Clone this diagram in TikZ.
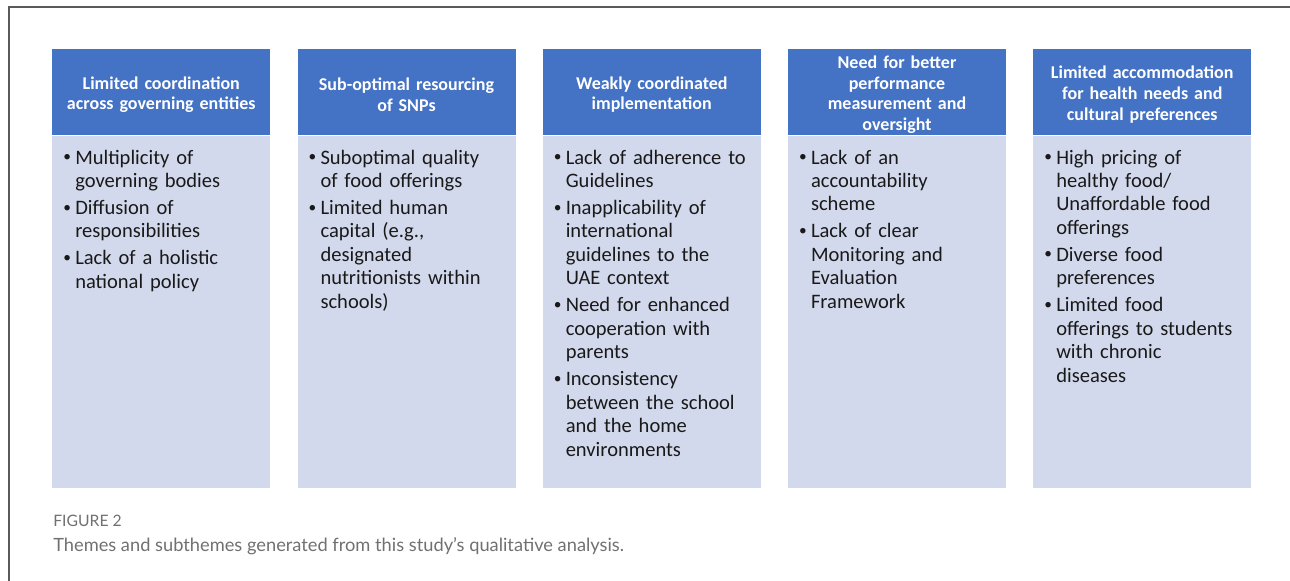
\documentclass[tikz,border=0pt]{standalone}
\usepackage{fontspec}
\setmainfont{Carlito}
\newfontfamily\capfont{Lato}
\usepackage{tikz}
\usetikzlibrary{positioning}
\usepackage{xcolor}
\definecolor{headblue}{HTML}{4472C4}
\definecolor{bodyblue}{HTML}{D3D9EC}
\definecolor{framegray}{HTML}{5A5A5A}
\definecolor{capgray}{HTML}{707070}
\tikzset{
  header/.style={fill=headblue,draw=none,text=white,font=\fontsize{13.5}{15.4}\selectfont\bfseries,
                 text width=158pt,inner sep=0,minimum width=163.5pt,minimum height=64.5pt,align=center},
  bodybox/.style={fill=bodyblue,draw=none,inner sep=0,minimum width=163.5pt,minimum height=264pt},
  bodytext/.style={inner sep=0,text width=154pt,text=black!90,
                   font=\fontsize{15.4}{17.6}\selectfont},
  caption/.style={inner sep=0,anchor=base west,text=capgray}
}
% one bullet point with hanging indent
\newcommand{\sitem}[1]{\par\hangindent=9pt\hangafter=1\noindent
  \makebox[9pt][l]{\raisebox{0.12em}{\scalebox{0.75}{\textbullet}}}#1}
\begin{document}
\begin{tikzpicture}[x=0.75pt,y=-0.75pt]
  \useasboundingbox (0,0) rectangle (1290,581);
  % Frame round the figure
  \draw[framegray,line width=1.1pt] (9,581) -- (9,7) -- (1290,7);
  % Draw theme headers and their boxes
  \foreach \h [count=\hi] in {Limited coordination\\across governing entities,
                              Sub-optimal resourcing\\of SNPs,
                              Weakly coordinated\\implementation,
                              Need for better\\performance\\measurement and\\oversight,
                              Limited accommodation\\for health needs and\\cultural preferences}{%
    \node[header,anchor=north west] (head\hi) at (52+\hi*245.25-245.25,49) {\rule{0pt}{13pt}\h};
    \node[bodybox,below=0pt of head\hi] (body\hi) {};
  }
  % Subthemes in each box
  \foreach \s [count=\si] in {%
      {\sitem{Multiplicity of\newline governing bodies}\sitem{Diffusion of\newline responsibilities}\sitem{Lack of a holistic\newline national policy}},
      {\sitem{Suboptimal quality\newline of food offerings}\sitem{Limited human\newline capital (e.g.,\newline designated\newline nutritionists within\newline schools)}},
      {\sitem{Lack of adherence to\newline Guidelines}\sitem{Inapplicability of\newline international\newline guidelines to the\newline UAE context}\sitem{Need for enhanced\newline cooperation with\newline parents}\sitem{Inconsistency\newline between the school\newline and the home\newline environments}},
      {\sitem{Lack of an\newline accountability\newline scheme}\sitem{Lack of clear\newline Monitoring and\newline Evaluation\newline Framework}},
      {\sitem{High pricing of\newline healthy food/\newline Unaffordable food\newline offerings}\sitem{Diverse food\newline preferences}\sitem{Limited food\newline offerings to students\newline with chronic\newline diseases}}}{%
    \node[bodytext,anchor=north west] (list\si) at ([xshift=8.25pt,yshift=-1pt]body\si.north west)
      {\raggedright\parskip=2.6pt\s\par};
  }
  % Caption
  \node[caption,font=\capfont\fontsize{11.8}{13}\selectfont] (figlabel) at (53,526) {FIGURE 2};
  \node[caption,font=\capfont\fontsize{13.7}{16}\selectfont] (figtext) at (53,551)
    {Themes and subthemes generated from this study’s qualitative analysis.};
\end{tikzpicture}
\end{document}
